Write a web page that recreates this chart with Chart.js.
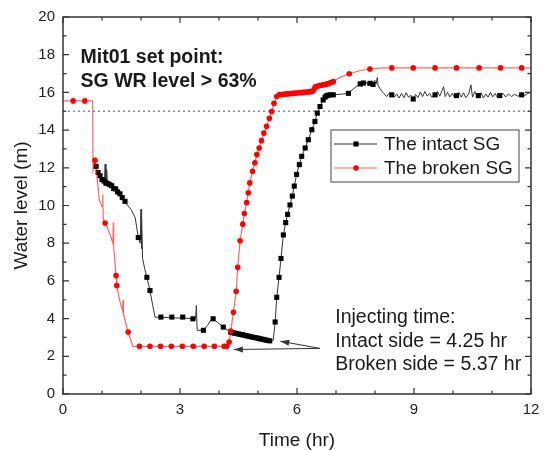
<!DOCTYPE html>
<html>
<head>
<meta charset="utf-8">
<script src="https://cdn.jsdelivr.net/npm/chart.js@4.4.1/dist/chart.umd.min.js"></script>
<style>
	html, body { margin: 0; padding: 0; background: #ffffff; }
</style>
</head>
<body>
<canvas id="chart" width="547" height="450"></canvas>
<script>

// values: time in hr, water level in m

const seriesLabels = ['The intact SG', 'The broken SG'];

const intactTime = [
	0.80, 0.84, 0.88, 0.92, 0.96, 1.00, 1.04, 1.06, 1.08, 1.10, 1.12, 1.14, 1.18, 1.22, 1.26, 1.30,
	1.35, 1.40, 1.45, 1.50, 1.55, 1.60, 1.67, 1.75, 1.85, 1.93, 1.98, 2.00, 2.01, 2.02, 2.04, 2.06,
	2.10, 2.15, 2.23, 2.30, 2.36, 3.33, 3.40, 3.42, 3.44, 3.60, 3.70, 3.80, 3.85, 3.95, 4.11, 4.28,
	5.31, 5.39, 5.44, 5.48, 5.54, 5.59, 5.65, 5.71, 5.76, 5.82, 5.88, 5.93, 5.99, 6.06, 6.12, 6.21,
	6.29, 6.38, 6.46, 6.52, 6.59, 6.67, 6.72, 6.80, 6.93, 7.20, 7.32, 7.45, 7.57, 7.62, 7.66, 7.70,
	7.74, 7.78, 7.82, 7.87, 7.92, 7.95, 7.99, 8.03, 8.06, 8.08, 8.18, 8.30, 8.36, 8.43, 8.50, 8.56,
	8.62, 8.68, 8.74, 8.80, 8.86, 8.92, 8.98, 9.04, 9.10, 9.16, 9.22, 9.28, 9.34, 9.40, 9.46, 9.54,
	9.60, 9.66, 9.72, 9.76, 9.80, 9.86, 9.92, 9.98, 10.04, 10.09, 10.15, 10.21, 10.27, 10.33, 10.40, 10.46,
	10.50, 10.56, 10.62, 10.65, 10.72, 10.78, 10.84, 10.90, 10.96, 11.02, 11.08, 11.14, 11.20, 11.28, 11.35, 11.42,
	11.50, 11.58, 11.66, 11.76, 11.85, 11.92, 12.00
];
const intactLevel = [
	12.35, 11.95, 11.85, 11.60, 11.55, 11.35, 11.45, 11.05, 12.20, 11.10, 11.90, 11.15, 11.20, 11.00, 11.10, 10.88,
	10.92, 10.70, 10.65, 10.45, 10.35, 10.18, 9.97, 9.78, 9.36, 8.30, 8.00, 9.80, 7.70, 9.40, 7.20, 7.00,
	6.60, 6.19, 5.49, 4.70, 4.08, 4.00, 3.98, 4.70, 3.38, 3.38, 3.62, 3.95, 3.99, 3.82, 3.55, 3.29,
	2.81, 2.85, 3.82, 5.13, 6.19, 7.19, 8.44, 9.09, 9.53, 10.03, 10.50, 11.03, 11.65, 12.17, 12.61, 13.05,
	13.49, 14.02, 14.46, 14.90, 15.25, 15.60, 15.75, 15.85, 15.87, 15.92, 15.95, 16.20, 16.39, 16.45, 16.30, 16.50,
	16.38, 16.55, 16.40, 16.48, 16.62, 16.42, 16.65, 16.45, 16.80, 16.35, 16.05, 15.78, 15.95, 15.87, 15.75, 15.92,
	15.70, 15.95, 15.72, 15.98, 15.75, 15.85, 15.65, 15.90, 15.72, 16.02, 15.78, 16.05, 15.80, 15.95, 15.75, 15.87,
	16.05, 15.80, 16.10, 16.30, 15.78, 16.00, 15.76, 15.95, 15.72, 15.83, 16.00, 15.75, 15.98, 15.72, 15.90, 16.40,
	15.75, 16.05, 15.78, 15.83, 15.98, 15.70, 15.92, 15.75, 16.00, 15.76, 15.95, 15.72, 15.83, 15.95, 15.76, 15.92,
	15.78, 15.90, 15.80, 15.87, 15.85, 15.95, 16.00
];

const intactMarkTime = [
	0.85, 0.90, 0.95, 1.00, 1.05, 1.10, 1.15, 1.20, 1.25, 1.30, 1.35, 1.40, 1.46, 1.52, 1.59, 1.93,
	2.15, 2.23, 2.51, 2.79, 3.07, 3.33, 3.60, 3.85, 4.11, 4.30, 4.35, 4.40, 4.45, 4.50, 4.55, 4.60,
	4.65, 4.70, 4.75, 4.80, 4.85, 4.90, 4.95, 5.00, 5.05, 5.10, 5.15, 5.20, 5.25, 5.30, 5.44, 5.48,
	5.54, 5.59, 5.65, 5.71, 5.76, 5.82, 5.88, 5.93, 5.99, 6.06, 6.12, 6.21, 6.29, 6.38, 6.46, 6.52,
	6.59, 6.67, 6.72, 6.76, 6.80, 6.85, 6.93, 7.32, 7.62, 7.70, 7.87, 7.95, 8.43, 8.98, 9.54, 10.09,
	10.65, 11.20, 11.76
];
const intactMarkLevel = [
	12.08, 11.75, 11.58, 11.38, 11.30, 11.20, 11.16, 11.10, 11.05, 10.90, 10.88, 10.72, 10.62, 10.42, 10.22, 8.30,
	6.19, 5.49, 4.08, 4.08, 4.08, 3.99, 3.38, 3.99, 3.55, 3.28, 3.25, 3.23, 3.21, 3.18, 3.16, 3.14,
	3.12, 3.09, 3.07, 3.05, 3.02, 3.00, 2.98, 2.96, 2.93, 2.91, 2.89, 2.86, 2.84, 2.82, 3.82, 5.13,
	6.19, 7.19, 8.44, 9.09, 9.53, 10.03, 10.50, 11.03, 11.65, 12.17, 12.61, 13.05, 13.49, 14.02, 14.46, 14.90,
	15.25, 15.60, 15.75, 15.82, 15.85, 15.87, 15.87, 15.95, 16.45, 16.50, 16.48, 16.42, 15.87, 15.65, 15.87, 15.83,
	15.83, 15.83, 15.87
];

const brokenTime = [
	0.00, 0.76, 0.77, 0.82, 0.86, 0.93, 1.00, 1.02, 1.03, 1.08, 1.20, 1.28, 1.29, 1.30, 1.36, 1.38,
	1.46, 1.53, 1.54, 1.55, 1.67, 1.79, 4.20, 4.26, 4.30, 4.37, 4.44, 4.48, 4.54, 4.61, 4.65, 4.71,
	4.75, 4.79, 4.86, 4.92, 4.97, 5.03, 5.09, 5.15, 5.22, 5.29, 5.35, 5.41, 5.48, 5.52, 6.40, 6.44,
	6.47, 6.93, 7.10, 7.34, 7.60, 7.87, 8.20, 12.00
];
const brokenLevel = [
	15.55, 15.55, 11.90, 12.40, 11.80, 10.30, 9.95, 10.60, 9.30, 9.07, 8.50, 8.00, 9.10, 7.80, 6.28, 5.75,
	4.90, 4.40, 5.00, 4.25, 3.29, 2.53, 2.53, 2.76, 3.34, 4.34, 5.45, 6.72, 8.13, 9.01, 9.57, 10.15,
	10.68, 11.20, 11.82, 12.26, 12.70, 13.05, 13.44, 13.84, 14.20, 14.63, 14.99, 15.42, 15.78, 15.87, 16.06, 16.18,
	16.30, 16.57, 16.80, 16.99, 17.15, 17.24, 17.30, 17.30
];

const brokenMarkTime = [
	0.26, 0.56, 0.82, 1.08, 1.36, 1.38, 1.67, 1.96, 2.23, 2.50, 2.78, 3.06, 3.34, 3.62, 3.88, 4.13,
	4.20, 4.26, 4.30, 4.37, 4.44, 4.48, 4.54, 4.61, 4.65, 4.71, 4.75, 4.79, 4.86, 4.92, 4.97, 5.03,
	5.09, 5.15, 5.22, 5.29, 5.35, 5.41, 5.48, 5.55, 5.60, 5.65, 5.70, 5.75, 5.80, 5.85, 5.90, 5.95,
	6.00, 6.05, 6.10, 6.15, 6.20, 6.25, 6.30, 6.35, 6.40, 6.44, 6.47, 6.52, 6.57, 6.62, 6.67, 6.72,
	6.77, 6.82, 6.87, 6.93, 7.34, 7.87, 8.43, 8.98, 9.54, 10.09, 10.67, 11.22, 11.76
];
const brokenMarkLevel = [
	15.55, 15.55, 12.40, 9.07, 6.28, 5.75, 3.29, 2.53, 2.53, 2.53, 2.53, 2.53, 2.53, 2.53, 2.53, 2.53,
	2.53, 2.76, 3.34, 4.34, 5.45, 6.72, 8.13, 9.01, 9.57, 10.15, 10.68, 11.20, 11.82, 12.26, 12.70, 13.05,
	13.44, 13.84, 14.20, 14.63, 14.99, 15.42, 15.78, 15.88, 15.89, 15.90, 15.91, 15.92, 15.93, 15.94, 15.95, 15.96,
	15.97, 15.98, 15.99, 16.00, 16.01, 16.02, 16.03, 16.04, 16.06, 16.18, 16.30, 16.33, 16.36, 16.38, 16.40, 16.42,
	16.45, 16.48, 16.52, 16.57, 16.99, 17.24, 17.30, 17.30, 17.30, 17.30, 17.30, 17.30, 17.30
];

const setPointLevel = 15;

const xTickValues = [0, 3, 6, 9, 12];
const yTickValues = [0, 2, 4, 6, 8, 10, 12, 14, 16, 18, 20];

const noteSetPoint = ['Mit01 set point:', 'SG WR level > 63%'];
const noteInjecting = ['Injecting time:', 'Intact side = 4.25 hr', 'Broken side = 5.37 hr'];


const FONT = '"Liberation Sans", Arial, sans-serif';
const colorIntact = '#000000';
const colorBroken = '#ff0000';

function points(xs, ys) {
	return xs.map((x, i) => ({x: x, y: ys[i]}));
}


// axis frame with inward ticks on all four sides
const framePlugin = {
	id: 'frame',
	afterDatasetsDraw(chart) {
		const {ctx, chartArea: a, scales: {x, y}} = chart;
		ctx.save();
		ctx.strokeStyle = '#333333';
		ctx.lineWidth = 1.5;
		ctx.strokeRect(a.left, a.top, a.right - a.left, a.bottom - a.top);

		ctx.lineWidth = 1.2;
		ctx.beginPath();
		for(let v = x.min; v <= x.max; v++) {
			const px = x.getPixelForValue(v);
			const len = xTickValues.includes(v) ? 6 : 3.5;
			ctx.moveTo(px, a.bottom); ctx.lineTo(px, a.bottom - len);
			ctx.moveTo(px, a.top); ctx.lineTo(px, a.top + len);
		}
		for(let v = y.min; v <= y.max; v++) {
			const py = y.getPixelForValue(v);
			const len = yTickValues.includes(v) ? 6 : 3.5;
			ctx.moveTo(a.left, py); ctx.lineTo(a.left + len, py);
			ctx.moveTo(a.right, py); ctx.lineTo(a.right - len, py);
		}
		ctx.stroke();
		ctx.restore();
	}
};


// text notes and the two arrows pointing at the injection start
const notesPlugin = {
	id: 'notes',
	afterDraw(chart) {
		const {ctx, scales: {x, y}} = chart;
		ctx.save();
		ctx.fillStyle = '#1a1a1a';
		ctx.textAlign = 'left';
		ctx.textBaseline = 'alphabetic';

		ctx.font = 'bold 19.5px ' + FONT;
		noteSetPoint.forEach((t, i) => ctx.fillText(t, x.getPixelForValue(0.45), y.getPixelForValue(17.55) + i * 24));

		ctx.font = '19.5px ' + FONT;
		noteInjecting.forEach((t, i) => ctx.fillText(t, x.getPixelForValue(6.98), y.getPixelForValue(3.75) + i * 23.3));

		const tail = [6.59, 2.42];
		const heads = [[5.57, 2.80], [4.38, 2.36]];
		ctx.strokeStyle = '#333333';
		ctx.fillStyle = '#333333';
		ctx.lineWidth = 1;
		heads.forEach(h => {
			const x0 = x.getPixelForValue(tail[0]), y0 = y.getPixelForValue(tail[1]);
			const x1 = x.getPixelForValue(h[0]), y1 = y.getPixelForValue(h[1]);
			const ang = Math.atan2(y1 - y0, x1 - x0);
			ctx.beginPath();
			ctx.moveTo(x0, y0);
			ctx.lineTo(x1, y1);
			ctx.stroke();
			ctx.beginPath();
			ctx.moveTo(x1, y1);
			ctx.lineTo(x1 - 9 * Math.cos(ang) + 3 * Math.sin(ang), y1 - 9 * Math.sin(ang) - 3 * Math.cos(ang));
			ctx.lineTo(x1 - 9 * Math.cos(ang) - 3 * Math.sin(ang), y1 - 9 * Math.sin(ang) + 3 * Math.cos(ang));
			ctx.closePath();
			ctx.fill();
		});
		ctx.restore();
	}
};


// boxed legend inside the plot area
const legendPlugin = {
	id: 'boxLegend',
	afterDraw(chart) {
		const {ctx, chartArea: a} = chart;
		const w = 188, h = 52;
		const left = a.right - 12 - w, top = a.top + 113;
		ctx.save();
		ctx.fillStyle = '#ffffff';
		ctx.fillRect(left, top, w, h);
		ctx.strokeStyle = '#444444';
		ctx.lineWidth = 1;
		ctx.strokeRect(left, top, w, h);

		const ds = chart.data.datasets;
		const entries = [
			{line: ds[3], mark: ds[2]},
			{line: ds[1], mark: ds[0]}
		];
		entries.forEach((e, i) => {
			const cy = top + 14 + i * 24;
			ctx.strokeStyle = e.line.borderColor;
			ctx.lineWidth = e.line.borderWidth;
			ctx.beginPath();
			ctx.moveTo(left + 3, cy);
			ctx.lineTo(left + 46, cy);
			ctx.stroke();

			ctx.fillStyle = e.mark.backgroundColor;
			ctx.beginPath();
			if(e.mark.pointStyle === 'rect') {
				const s = e.mark.pointRadius * Math.SQRT1_2;
				ctx.rect(left + 25 - s, cy - s, 2 * s, 2 * s);
			} else {
				ctx.arc(left + 25, cy, e.mark.pointRadius, 0, Math.PI * 2);
			}
			ctx.fill();

			ctx.fillStyle = '#1a1a1a';
			ctx.font = '19px ' + FONT;
			ctx.textBaseline = 'middle';
			ctx.fillText(e.line.label, left + 53, cy + 1);
		});
		ctx.restore();
	}
};


const config = {
	type: 'scatter',
	data: {
		datasets: [
			{
				label: seriesLabels[1] + ' marks',
				data: points(brokenMarkTime, brokenMarkLevel),
				pointStyle: 'circle',
				pointRadius: 2.8,
				backgroundColor: colorBroken,
				borderWidth: 0,
				order: 0
			},
			{
				label: seriesLabels[1],
				data: points(brokenTime, brokenLevel),
				showLine: true,
				borderColor: 'rgba(255, 0, 0, 0.6)',
				borderWidth: 1.2,
				pointRadius: 0,
				order: 1
			},
			{
				label: seriesLabels[0] + ' marks',
				data: points(intactMarkTime, intactMarkLevel),
				pointStyle: 'rect',
				pointRadius: 3.6,
				backgroundColor: colorIntact,
				borderWidth: 0,
				order: 2
			},
			{
				label: seriesLabels[0],
				data: points(intactTime, intactLevel),
				showLine: true,
				borderColor: '#333333',
				borderWidth: 1,
				pointRadius: 0,
				order: 3
			},
			{
				label: 'set point',
				data: points([xTickValues[0], xTickValues[xTickValues.length - 1]], [setPointLevel, setPointLevel]),
				showLine: true,
				borderColor: '#8a8a8a',
				borderWidth: 1.3,
				borderDash: [2, 3],
				pointRadius: 0,
				order: 4
			}
		]
	},
	options: {
		responsive: false,
		animation: false,
		events: [],
		layout: {
			padding: {top: 15, right: 16, left: 0, bottom: 0}
		},
		plugins: {
			legend: {display: false},
			tooltip: {enabled: false}
		},
		scales: {
			x: {
				type: 'linear',
				min: 0,
				max: 12,
				afterFit: (s) => { s.height = 56; },
				afterBuildTicks: (s) => { s.ticks = xTickValues.map(v => ({value: v})); },
				grid: {display: false, drawTicks: false},
				border: {display: false},
				ticks: {
					padding: 7,
					color: '#222222',
					font: {family: FONT, size: 15},
					maxRotation: 0
				},
				title: {
					display: true,
					text: 'Time (hr)',
					color: '#1a1a1a',
					font: {family: FONT, size: 19, lineHeight: 1.0},
					padding: {top: 0, bottom: 0}
				}
			},
			y: {
				type: 'linear',
				min: 0,
				max: 20,
				afterFit: (s) => { s.width = 63; },
				afterBuildTicks: (s) => { s.ticks = yTickValues.map(v => ({value: v})); },
				grid: {display: false, drawTicks: false},
				border: {display: false},
				ticks: {
					padding: 8,
					color: '#222222',
					font: {family: FONT, size: 15}
				},
				title: {
					display: true,
					text: 'Water level (m)',
					color: '#1a1a1a',
					font: {family: FONT, size: 19, lineHeight: 1.0},
					padding: {top: 12, bottom: 0}
				}
			}
		}
	},
	plugins: [framePlugin, notesPlugin, legendPlugin]
};

new Chart(document.getElementById('chart').getContext('2d'), config);

</script>
</body>
</html>
